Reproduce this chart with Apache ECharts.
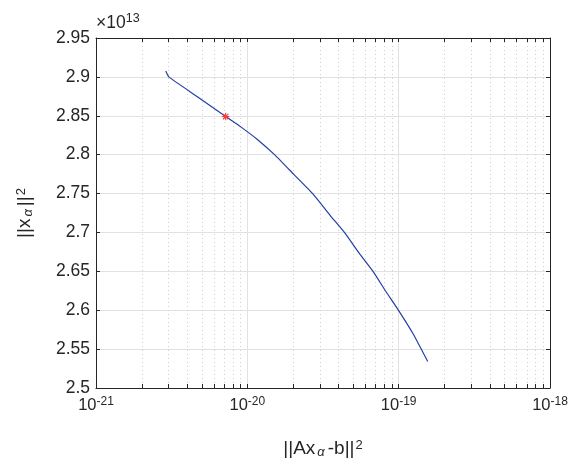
<!DOCTYPE html>
<html><head><meta charset="utf-8">
<script src="https://cdn.jsdelivr.net/npm/echarts@6/dist/echarts.min.js"></script>
<style>html,body{margin:0;padding:0;background:#fff}#c{width:573px;height:464px}</style>
</head><body><div id="c"></div>
<script>
// residual norm ||A x_alpha - b||^2 (x values, log scale)
const residualNorm = [2.89e-21, 3.03e-21, 4.65e-21, 7.19e-21, 9.09e-21, 1.154e-20, 1.524e-20, 2.035e-20, 2.73e-20, 3.521e-20, 4.42e-20, 5.556e-20, 6.805e-20, 8.253e-20, 9.954e-20, 1.245e-19, 1.556e-19];
// solution norm ||x_alpha||^2 in units of 1e13
const solutionNorm = [2.9075, 2.900, 2.8749, 2.849, 2.8354, 2.8202, 2.7994, 2.7743, 2.7489, 2.7221, 2.6991, 2.6717, 2.6492, 2.6237, 2.6001, 2.5697, 2.534];
// highlighted corner point
const cornerX = [7.19e-21];
const cornerY = [2.849];
// axis settings
const xMin = 1e-21, xMax = 1e-18;
const xUnitExp = -21;               // x values are plotted in units of 10^-21
const yMin = 2.5, yMax = 2.95, yStep = 0.05;
const minorMantissas = [2, 3, 4, 5, 6, 7, 8, 9];
const minorDecades = [1e-21, 1e-20, 1e-19];
const yScaleExponent = '13';

const xUnit = Math.pow(10, xUnitExp);
const sx = v => v / xUnit;
const minorTicks = [];
minorDecades.forEach(d => minorMantissas.forEach(m => minorTicks.push([sx(m * d), yMin])));

const txt = '#262626';
const font = 'Liberation Sans, Arial, sans-serif';
const chart = echarts.init(document.getElementById('c'), null, {renderer: 'canvas'});

const xLabelRich = {
  b: {fontSize: 16.5, fontFamily: font, color: txt, lineHeight: 18, verticalAlign: 'bottom'},
  s: {fontSize: 12, fontFamily: font, color: txt, lineHeight: 12, padding: [0, 0, 11, 0], verticalAlign: 'top'}
};
const nameRich = {
  b: {fontSize: 19, fontFamily: font, color: txt, lineHeight: 20, verticalAlign: 'middle'},
  sub: {fontSize: 13, fontFamily: font, fontStyle: 'italic', color: txt, lineHeight: 13, padding: [13, 3, 0, 2], verticalAlign: 'bottom'},
  sup: {fontSize: 13, fontFamily: font, color: txt, lineHeight: 13, padding: [0, 0, 14, 1], verticalAlign: 'top'}
};

function tickLine(x1, y1, x2, y2, style) {
  return {type: 'line', shape: {x1, y1, x2, y2}, style};
}

const option = {
  animation: false,
  backgroundColor: '#fff',
  grid: {left: 96, right: 23, top: 38, bottom: 76, containLabel: false, outerBoundsMode: 'none'},
  graphic: [{
    type: 'text', left: 96, top: 12,
    style: {
      text: '{b|×10}{s|' + yScaleExponent + '}',
      rich: {
        b: {fontSize: 17.5, fontFamily: font, fill: txt, lineHeight: 20, verticalAlign: 'bottom'},
        s: {fontSize: 12.5, fontFamily: font, fill: txt, lineHeight: 13, padding: [0, 0, 10, 0], verticalAlign: 'top'}
      }
    }
  }],
  xAxis: [{
    type: 'log', logBase: 10, min: sx(xMin), max: sx(xMax), position: 'bottom',
    name: '{b|||Ax}{sub|α}{b|-b||}{sup|2}',
    nameLocation: 'middle', nameGap: 51,
    nameTextStyle: {rich: nameRich},
    axisLine: {lineStyle: {color: txt, width: 1}},
    axisTick: {inside: true, length: 4, lineStyle: {color: txt}},
    axisLabel: {margin: 8, formatter: v => '{b|10}{s|' + (Math.round(Math.log10(v)) + xUnitExp) + '}', rich: xLabelRich},
    splitLine: {show: true, lineStyle: {color: '#e2e2e2', width: 1}},
    minorTick: {show: false}
  }, {
    type: 'log', logBase: 10, min: sx(xMin), max: sx(xMax), position: 'top',
    axisLine: {lineStyle: {color: txt, width: 1}},
    axisTick: {inside: true, length: 4, lineStyle: {color: txt}},
    axisLabel: {show: false},
    splitLine: {show: false}
  }],
  yAxis: [{
    type: 'value', min: yMin, max: yMax, interval: yStep, position: 'left',
    name: '{b|||x}{sub|α}{b|||}{sup|2}',
    nameLocation: 'middle', nameGap: 61, nameRotate: 90,
    nameTextStyle: {rich: nameRich},
    axisLine: {show: true, lineStyle: {color: txt, width: 1}},
    axisTick: {show: true, inside: true, length: 4, lineStyle: {color: txt}},
    axisLabel: {margin: 6, fontSize: 17.5, fontFamily: font, color: txt},
    splitLine: {show: true, lineStyle: {color: '#e2e2e2', width: 1}}
  }, {
    type: 'value', min: yMin, max: yMax, interval: yStep, position: 'right',
    axisLine: {show: true, lineStyle: {color: txt, width: 1}},
    axisTick: {show: true, inside: true, length: 4, lineStyle: {color: txt}},
    axisLabel: {show: false},
    splitLine: {show: false}
  }],
  series: [{
    type: 'custom', silent: true, z: 1, clip: false,
    data: minorTicks,
    renderItem: (params, api) => {
      const p0 = api.coord([api.value(0), yMin]);
      const p1 = api.coord([api.value(0), yMax]);
      const x = Math.round(p0[0]) + 0.5;
      const b = Math.round(p0[1]), t = Math.round(p1[1]);
      return {type: 'group', children: [
        tickLine(x, t, x, b, {stroke: '#cfcfcf', lineWidth: 1, lineDash: [1, 3]}),
        tickLine(x, b, x, b - 4, {stroke: txt, lineWidth: 1}),
        tickLine(x, t, x, t + 4, {stroke: txt, lineWidth: 1})
      ]};
    }
  }, {
    type: 'line', z: 3,
    data: residualNorm.map((v, i) => [sx(v), solutionNorm[i]]),
    showSymbol: false, symbol: 'none',
    smooth: 0.15,
    lineStyle: {color: '#2040a8', width: 1.2},
    silent: true
  }, {
    type: 'custom', z: 4, silent: true,
    data: cornerX.map((v, i) => [sx(v), cornerY[i]]),
    renderItem: (params, api) => {
      const p = api.coord([api.value(0), api.value(1)]);
      const r = 3.8, d = 2.7;
      const st = {stroke: '#f23a3a', lineWidth: 1.1};
      return {type: 'group', children: [
        tickLine(p[0] - r, p[1], p[0] + r, p[1], st),
        tickLine(p[0], p[1] - r, p[0], p[1] + r, st),
        tickLine(p[0] - d, p[1] - d, p[0] + d, p[1] + d, st),
        tickLine(p[0] - d, p[1] + d, p[0] + d, p[1] - d, st)
      ]};
    }
  }]
};
chart.setOption(option);
</script>
</body></html>
